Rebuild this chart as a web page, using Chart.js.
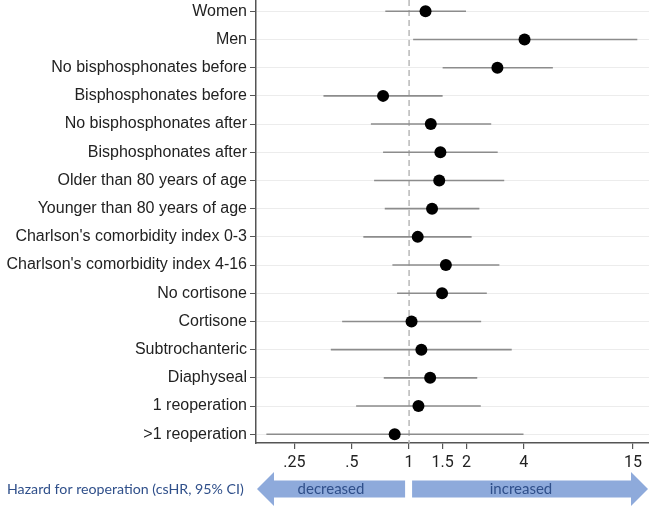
<!DOCTYPE html>
<html>
<head>
<meta charset="utf-8">
<script src="https://cdn.jsdelivr.net/npm/chart.js@4.4.1/dist/chart.umd.min.js"></script>
<style>
  html, body { margin: 0; padding: 0; background: #fff; }
  #wrap { width: 649px; height: 508px; position: relative; }
</style>
</head>
<body>
<div id="wrap"><canvas id="forest"></canvas></div>
<script>
const categories = [
  'Women', 'Men', 'No bisphosphonates before', 'Bisphosphonates before',
  'No bisphosphonates after', 'Bisphosphonates after', 'Older than 80 years of age',
  'Younger than 80 years of age', "Charlson's comorbidity index 0-3",
  "Charlson's comorbidity index 4-16", 'No cortisone', 'Cortisone',
  'Subtrochanteric', 'Diaphyseal', '1 reoperation', '>1 reoperation'
];
const hr    = [1.22, 4.04, 2.91, 0.73, 1.30, 1.46, 1.44, 1.32, 1.11, 1.56, 1.49, 1.03, 1.16, 1.29, 1.12, 0.84];
const ciLow = [0.75, 1.05, 1.50, 0.355, 0.63, 0.73, 0.655, 0.745, 0.575, 0.817, 0.865, 0.445, 0.388, 0.736, 0.527, 0.178];
const ciHigh= [1.99, 15.8, 5.69, 1.50, 2.70, 2.92, 3.16, 2.34, 2.13, 2.98, 2.56, 2.39, 3.46, 2.28, 2.38, 3.99];
const xTicks = [0.25, 0.5, 1, 1.5, 2, 4, 15];
const xTickLabels = ['.25', '.5', '1', '1.5', '2', '4', '15'];

// CI segments, broken with null points
const ciData = [];
categories.forEach(function(c, i) {
  ciData.push({x: ciLow[i], y: i + 1});
  ciData.push({x: ciHigh[i], y: i + 1});
  ciData.push({x: null, y: null});
});
const pointData = hr.map(function(v, i) { return {x: v, y: i + 1}; });

const refLine = {
  id: 'refLine',
  beforeDatasetsDraw: function(chart) {
    const ctx = chart.ctx, xs = chart.scales.x, area = chart.chartArea;
    const px = xs.getPixelForValue(1);
    ctx.save();
    ctx.strokeStyle = '#b8b8b8';
    ctx.lineWidth = 1.5;
    ctx.setLineDash([6, 4]);
    ctx.beginPath();
    ctx.moveTo(px, area.top);
    ctx.lineTo(px, area.bottom);
    ctx.stroke();
    ctx.restore();
  },
  afterDraw: function(chart) {
    const ctx = chart.ctx, xs = chart.scales.x;
    const px = xs.getPixelForValue(1);
    const cy = 489, bodyH = 17, headH = 34, headW = 17;
    ctx.save();
    ctx.fillStyle = '#8eaadb';
    // left arrow
    let tip = 257, end = px - 4;
    ctx.beginPath();
    ctx.moveTo(tip, cy);
    ctx.lineTo(tip + headW, cy - headH / 2);
    ctx.lineTo(tip + headW, cy - bodyH / 2);
    ctx.lineTo(end, cy - bodyH / 2);
    ctx.lineTo(end, cy + bodyH / 2);
    ctx.lineTo(tip + headW, cy + bodyH / 2);
    ctx.lineTo(tip + headW, cy + headH / 2);
    ctx.closePath();
    ctx.fill();
    // right arrow
    let start = px + 3; tip = 648;
    ctx.beginPath();
    ctx.moveTo(tip, cy);
    ctx.lineTo(tip - headW, cy - headH / 2);
    ctx.lineTo(tip - headW, cy - bodyH / 2);
    ctx.lineTo(start, cy - bodyH / 2);
    ctx.lineTo(start, cy + bodyH / 2);
    ctx.lineTo(tip - headW, cy + bodyH / 2);
    ctx.lineTo(tip - headW, cy + headH / 2);
    ctx.closePath();
    ctx.fill();

    ctx.fillStyle = '#2f4f8a';
    ctx.font = '15px Lato, "Open Sans", sans-serif';
    ctx.textBaseline = 'middle';
    ctx.textAlign = 'center';
    ctx.fillText('decreased', 331, cy);
    ctx.fillText('increased', 521, cy);
    ctx.textAlign = 'left';
    ctx.font = '14.2px Lato, "Open Sans", sans-serif';
    ctx.fillText('Hazard for reoperation (csHR, 95% CI)', 7, cy);
    ctx.restore();
  }
};

new Chart(document.getElementById('forest'), {
  type: 'scatter',
  data: {
    datasets: [{
      type: 'line',
      data: ciData,
      borderColor: '#8c8c8c',
      borderWidth: 1.6,
      pointRadius: 0,
      spanGaps: false,
      fill: false,
      order: 2
    }, {
      data: pointData,
      backgroundColor: '#000',
      borderColor: '#000',
      borderWidth: 0,
      pointRadius: 6,
      pointHoverRadius: 6,
      order: 1
    }]
  },
  options: {
    responsive: true,
    maintainAspectRatio: false,
    animation: false,
    layout: { padding: 0, autoPadding: false },
    plugins: { legend: { display: false }, tooltip: { enabled: false } },
    scales: {
      x: {
        type: 'logarithmic',
        min: 0.157,
        max: 18.2,
        afterBuildTicks: function(axis) {
          axis.ticks = xTicks.map(function(v) { return {value: v}; });
        },
        afterFit: function(axis) {
          axis.height = 65;
          axis.paddingLeft = 0;
          axis.paddingRight = 0;
        },
        ticks: {
          autoSkip: false,
          maxRotation: 0,
          padding: 4,
          color: '#222',
          font: { family: 'Roboto, "Liberation Sans", Arial, sans-serif', size: 16 },
          callback: function(v) {
            const k = xTicks.indexOf(v);
            return k >= 0 ? xTickLabels[k] : '';
          }
        },
        grid: { drawOnChartArea: false, tickColor: '#555', tickLength: 6, lineWidth: 1.2 },
        border: { color: '#555', width: 1.5 }
      },
      y: {
        type: 'linear',
        reverse: true,
        min: 0.6,
        max: 16.31,
        afterBuildTicks: function(axis) {
          axis.ticks = categories.map(function(c, i) { return {value: i + 1}; });
        },
        afterFit: function(axis) {
          axis.width = 256;
          axis.paddingTop = 0;
          axis.paddingBottom = 0;
        },
        ticks: {
          autoSkip: false,
          padding: 3,
          color: '#222',
          font: { family: '"Liberation Sans", Arial, sans-serif', size: 16 },
          callback: function(v) { return categories[v - 1]; }
        },
        grid: { color: '#ececec', tickColor: '#555', tickLength: 6, lineWidth: 1 },
        border: { color: '#555', width: 1.5 }
      }
    }
  },
  plugins: [refLine]
});
</script>
</body>
</html>
